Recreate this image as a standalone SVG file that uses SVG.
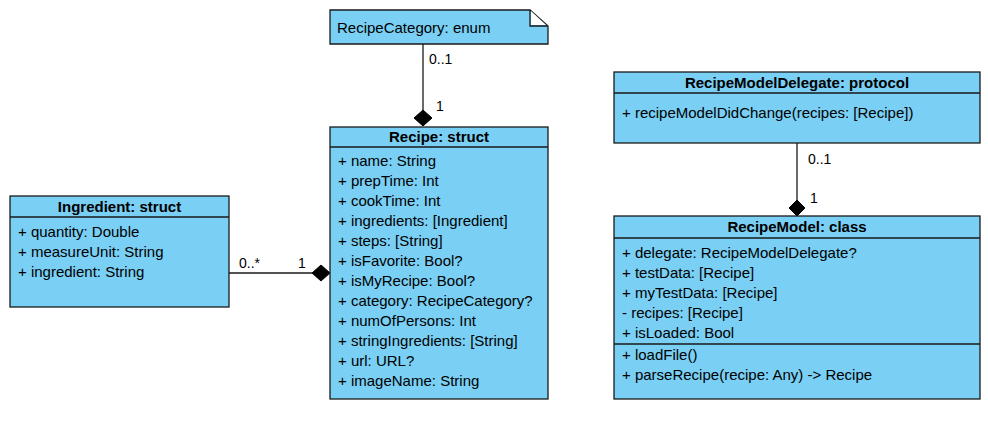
<svg xmlns="http://www.w3.org/2000/svg" width="988" height="421" viewBox="0 0 988 421">
<style>
.box{fill:#79CFF4;stroke:#1a1a1a;stroke-width:1.3}
.ln{stroke:#1a1a1a;stroke-width:1.3;fill:none}
text{font-family:"Liberation Sans",Arial,sans-serif;font-size:15px;fill:#000}
.h{font-weight:bold;text-anchor:middle}
.lbl{font-size:14px}
.dia{fill:#000;stroke:#000}
</style>
<rect width="988" height="421" fill="#fff"/>
<g id="connectors">
<line class="ln" x1="423" y1="44" x2="423" y2="110"/>
<polygon class="dia" points="423,110 432,118 423,126 414,118"/>
<text class="lbl" x="429" y="64">0..1</text>
<text class="lbl" x="436" y="111">1</text>
<line class="ln" x1="229" y1="273" x2="312" y2="273"/>
<polygon class="dia" points="312,273 321,265 330,273 321,281"/>
<text class="lbl" x="239" y="268">0..*</text>
<text class="lbl" x="298" y="268">1</text>
<line class="ln" x1="797" y1="143" x2="797" y2="200"/>
<polygon class="dia" points="797,200 805,208 797,216 789,208"/>
<text class="lbl" x="808" y="164">0..1</text>
<text class="lbl" x="810" y="203">1</text>
</g>
<g id="recipeCategory">
<path class="box" d="M330,10 H530 L548,26 V44 H330 Z"/>
<path d="M531,11 V25 H546 Z" fill="#fff"/>
<path class="ln" d="M530,10 V26 H548"/>
<text x="337" y="33">RecipeCategory: enum</text>
</g>
<g id="recipe">
<rect class="box" x="330" y="127" width="218" height="272"/>
<line class="ln" x1="330" y1="147" x2="548" y2="147"/>
<text class="h" x="439" y="142">Recipe: struct</text>
<text x="338" y="166">+ name: String</text>
<text x="338" y="186">+ prepTime: Int</text>
<text x="338" y="206">+ cookTime: Int</text>
<text x="338" y="226">+ ingredients: [Ingredient]</text>
<text x="338" y="246">+ steps: [String]</text>
<text x="338" y="266">+ isFavorite: Bool?</text>
<text x="338" y="286">+ isMyRecipe: Bool?</text>
<text x="338" y="306">+ category: RecipeCategory?</text>
<text x="338" y="326">+ numOfPersons: Int</text>
<text x="338" y="346">+ stringIngredients: [String]</text>
<text x="338" y="366">+ url: URL?</text>
<text x="338" y="386">+ imageName: String</text>
</g>
<g id="ingredient">
<rect class="box" x="10" y="196" width="219" height="111"/>
<line class="ln" x1="10" y1="217" x2="229" y2="217"/>
<text class="h" x="119.5" y="212">Ingredient: struct</text>
<text x="18" y="237">+ quantity: Double</text>
<text x="18" y="257">+ measureUnit: String</text>
<text x="18" y="277">+ ingredient: String</text>
</g>
<g id="recipeModelDelegate">
<rect class="box" x="614" y="72" width="366" height="71"/>
<line class="ln" x1="614" y1="93" x2="980" y2="93"/>
<text class="h" x="797" y="88">RecipeModelDelegate: protocol</text>
<text x="622" y="118">+ recipeModelDidChange(recipes: [Recipe])</text>
</g>
<g id="recipeModel">
<rect class="box" x="614" y="216" width="366" height="183"/>
<line class="ln" x1="614" y1="238" x2="980" y2="238"/>
<line class="ln" x1="614" y1="344" x2="980" y2="344"/>
<text class="h" x="797" y="232">RecipeModel: class</text>
<text x="622" y="258">+ delegate: RecipeModelDelegate?</text>
<text x="622" y="278">+ testData: [Recipe]</text>
<text x="622" y="298">+ myTestData: [Recipe]</text>
<text x="622" y="318">- recipes: [Recipe]</text>
<text x="622" y="338">+ isLoaded: Bool</text>
<text x="622" y="360">+ loadFile()</text>
<text x="622" y="380">+ parseRecipe(recipe: Any) -&gt; Recipe</text>
</g>
</svg>
